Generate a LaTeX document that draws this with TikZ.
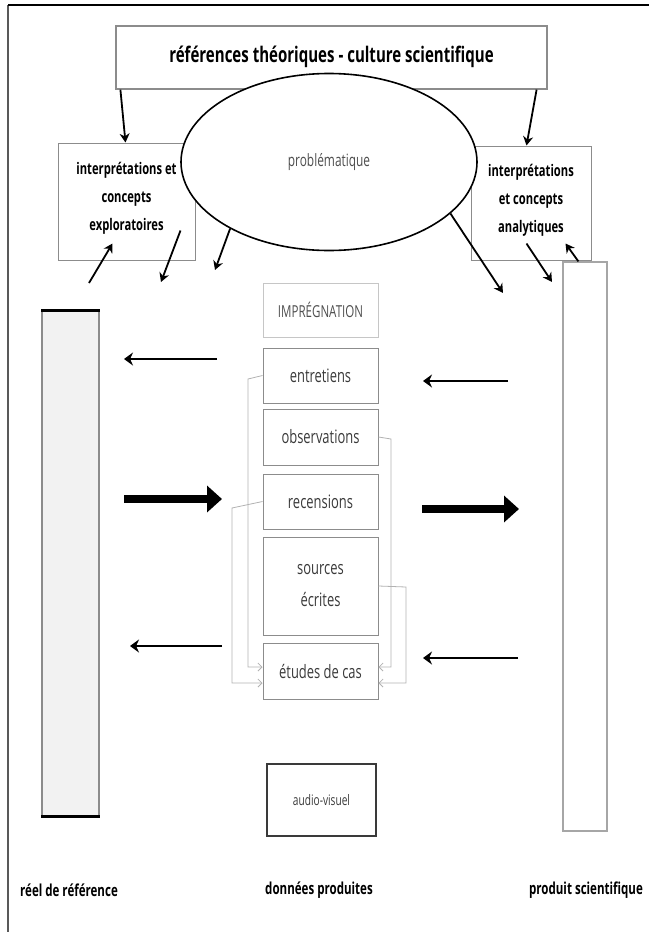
\documentclass[tikz,border=0pt]{standalone}
\usepackage{fontspec}
\setmainfont{Open Sans}[FakeStretch=0.7]
\usetikzlibrary{arrows.meta,shapes.geometric,positioning}
\definecolor{encre}{HTML}{3A3A3A}
\definecolor{trait}{HTML}{8C8C8C}

\begin{document}
\begin{tikzpicture}[
    x=1pt, y=-1pt,
    titre/.style={draw=trait, line width=1.2pt, minimum width=431pt, minimum height=63pt, text depth=6pt, font=\bfseries\fontsize{21.5}{24}\selectfont},
    cadre/.style={draw=trait, line width=1pt, align=center, text depth=10pt, font=\bfseries\fontsize{16}{28}\selectfont},
    donnee/.style={draw=trait, line width=1pt, minimum width=115pt, align=center, text=encre, font=\fontsize{18.5}{32}\selectfont},
    etiquette/.style={font=\bfseries\fontsize{16.5}{20}\selectfont},
    fleche/.style={-{Stealth[length=9pt,width=10pt]}, line width=1.8pt},
    fine/.style={-{Stealth[length=9pt,width=13pt]}, line width=2.5pt},
    grosse/.style={-{Triangle[length=15pt,width=26pt]}, line width=8pt},
    liaison/.style={-{Straight Barb[length=4pt,width=8pt]}, draw=gray!60, line width=0.8pt}
]
\useasboundingbox (0,0) rectangle (649,932);

% cadre general
\draw[line width=1.2pt, gray!70!black] (8,932) -- (8,5);
\draw[line width=2pt] (8,5) -- (649,5);

% haut
\node[titre] (theorie) at (331.5,57.5) {références théoriques - culture scientifique};
\node[cadre, minimum width=137pt, minimum height=117pt] (explo) at (126.5,201.5) {interprétations et\\concepts\\exploratoires};
\node[cadre, minimum width=120pt, minimum height=114pt] (analy) at (531,203) {interprétations\\et concepts\\analytiques};
\node[ellipse, draw, line width=1.6pt, fill=white, minimum width=296pt, minimum height=177pt, text=encre!90, font=\fontsize{17}{20}\selectfont] (probl) at (329,162) {problématique};

% colonnes
\node[draw=trait, line width=1.2pt, fill=gray!10, minimum width=57pt, minimum height=505pt] (reel) at (70.5,563.5) {};
\draw[line width=3pt] (reel.north west) -- (reel.north east);
\draw[line width=3pt] (reel.south west) -- (reel.south east);
\node[draw=gray!70, line width=1.2pt, fill=white, minimum width=44pt, minimum height=569pt] (produit) at (585,546.5) {};

% donnees produites
\node[donnee, draw=gray!45, text=encre!90, minimum height=54pt, font=\fontsize{16.5}{18}\selectfont] (impregnation) at (320.5,310) {IMPRÉGNATION};
\node[donnee, minimum height=55pt] (entretiens) at (320.5,375.5) {entretiens};
\node[donnee, minimum height=56pt] (observations) at (320.5,437) {observations};
\node[donnee, minimum height=55pt] (recensions) at (320.5,501.5) {recensions};
\node[donnee, minimum height=98pt] (sources) at (320.5,586) {sources\\écrites};
\node[donnee, minimum height=56pt] (etudes) at (320.5,671) {études de cas};
\node[donnee, draw=encre, line width=2pt, minimum width=109pt, minimum height=72pt, font=\fontsize{14.5}{16}\selectfont] (audiovisuel) at (321.5,800) {audio-visuel};

% etiquettes du bas
\node[etiquette] (lreel) at (69,890) {réel de référence};
\node[etiquette] (ldonnees) at (319,890) {données produites};
\node[etiquette] (lproduit) at (586,890) {produit scientifique};

% extremites libres
\coordinate (a1) at (89,283);
\coordinate (a2) at (161,282);
\coordinate (a3) at (215,270);
\coordinate (a4) at (503,293);
\coordinate (a5) at (552,282);
\coordinate (g1) at (217,359);
\coordinate (g1b) at (124,359);
\coordinate (g2) at (124,499);
\coordinate (g2b) at (222,499);
\coordinate (g3) at (222,646);
\coordinate (g3b) at (130,646);
\coordinate (d1) at (508,381);
\coordinate (d1b) at (423,381);
\coordinate (d2) at (422,509);
\coordinate (d2b) at (519,509);
\coordinate (d3) at (518,658);
\coordinate (d3b) at (423,658);

% fleches du haut
\draw[fleche] ([xshift=5pt]theorie.south west) -- ([xshift=68pt]explo.north west);
\draw[fleche] ([xshift=-11pt]theorie.south east) -- ([xshift=56pt]analy.north west);
\draw[fleche] (a1) -- ([xshift=55pt,yshift=17pt]explo.south west);
\draw[fleche] ([xshift=123pt,yshift=30pt]explo.south west) -- (a2);
\draw[fleche] (probl.214) -- (a3);
\draw[fleche] (probl.337) -- (a4);
\draw[fleche] ([xshift=56pt,yshift=17pt]analy.south west) -- (a5);
\draw[fleche] ([xshift=16pt]produit.north west) -- ([xshift=95pt,yshift=17pt]analy.south west);

% fleches horizontales
\draw[fine] (g1) -- (g1b);
\draw[grosse] (g2) -- (g2b);
\draw[fine] (g3) -- (g3b);
\draw[fine] (d1) -- (d1b);
\draw[grosse] (d2) -- (d2b);
\draw[fine] (d3) -- (d3b);

% liaisons vers etudes de cas
\draw[liaison] (entretiens.west) -- (248,379) |- ([yshift=4pt]etudes.west);
\draw[liaison] (recensions.west) -- (232,508) |- ([yshift=-12pt]etudes.west);
\draw[liaison] (observations.east) -- (391,439) |- ([yshift=4pt]etudes.east);
\draw[liaison] (sources.east) -- (406,587) |- ([yshift=-12pt]etudes.east);

\end{tikzpicture}
\end{document}
